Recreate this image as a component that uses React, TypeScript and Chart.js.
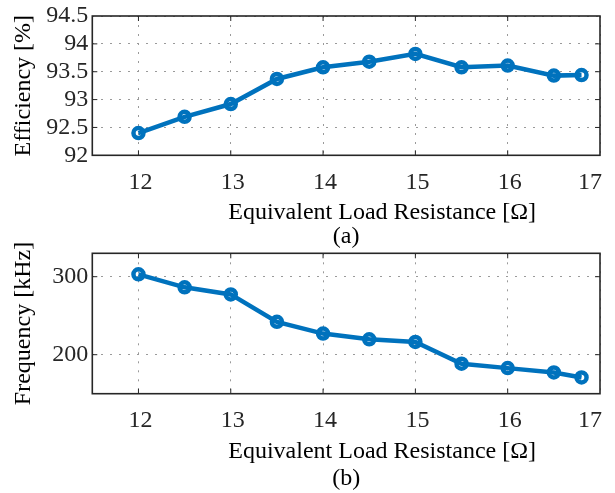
import React, { useEffect, useRef } from 'react';
import { Chart, registerables } from 'chart.js';
Chart.register(...registerables);

const resistance = [12, 12.5, 13, 13.5, 14, 14.5, 15, 15.5, 16, 16.5, 16.8];
const efficiency = [92.4, 92.69, 92.92, 93.37, 93.58, 93.68, 93.82, 93.58, 93.61, 93.43, 93.44];
const frequency = [303, 286.4, 277.3, 242.1, 227.1, 219.8, 216.3, 188.4, 182.8, 177.2, 170.8];
const xTicks = [11.5, 12, 13, 14, 15, 16, 17];
const effTicks = [92, 92.5, 93, 93.5, 94, 94.5];
const freqTicks = [200, 300];

const FONT = '"Liberation Serif", "Times New Roman", serif';
const BLUE = '#0072BD';
const AXIS = '#262626';
const X_TITLE = '            Equivalent Load Resistance [Ω]';

const boxPlugin = {
  id: 'box',
  afterDraw(chart: any) {
    const { ctx, chartArea: a, scales } = chart;
    ctx.save();
    ctx.strokeStyle = AXIS;
    ctx.lineWidth = 1;
    const tl = 5;
    const xs = scales.x;
    xs.ticks.forEach((t: any) => {
      const px = xs.getPixelForValue(t.value);
      if (px <= a.left + 1 || px >= a.right - 1) return;
      ctx.beginPath();
      ctx.moveTo(px, a.bottom);
      ctx.lineTo(px, a.bottom - tl);
      ctx.moveTo(px, a.top);
      ctx.lineTo(px, a.top + tl);
      ctx.stroke();
    });
    const ys = scales.y;
    ys.ticks.forEach((t: any) => {
      const py = ys.getPixelForValue(t.value);
      if (py <= a.top + 1 || py >= a.bottom - 1) return;
      ctx.beginPath();
      ctx.moveTo(a.left, py);
      ctx.lineTo(a.left + tl, py);
      ctx.moveTo(a.right, py);
      ctx.lineTo(a.right - tl, py);
      ctx.stroke();
    });
    ctx.lineWidth = 1.6;
    ctx.strokeRect(a.left, a.top, a.right - a.left, a.bottom - a.top);
    ctx.restore();
  },
};

function makeConfig(p: {
  values: number[];
  yMin: number;
  yMax: number;
  yTicks: number[];
  yTitle: string;
  caption: string;
  topPad: number;
  xHeight: number;
  xTitlePad: number;
  capPad: number;
}): any {
  return {
    type: 'line',
    data: {
      datasets: [
        {
          data: resistance.map((x, i) => ({ x, y: p.values[i] })),
          borderColor: BLUE,
          borderWidth: 4.5,
          pointRadius: 5,
          pointBorderWidth: 4.5,
          pointBackgroundColor: 'rgba(255,255,255,0)',
          pointBorderColor: BLUE,
          tension: 0,
        },
      ],
    },
    options: {
      animation: false,
      responsive: false,
      devicePixelRatio: 1,
      layout: { padding: { top: p.topPad, right: 6.7, left: 0, bottom: 0 } },
      plugins: {
        legend: { display: false },
        tooltip: { enabled: false },
        title: {
          display: true,
          text: p.caption,
          position: 'bottom',
          fullSize: false,
          color: '#000',
          font: { family: FONT, size: 24, weight: 'normal', lineHeight: 1 },
          padding: { top: 0, bottom: p.capPad },
        },
      },
      scales: {
        x: {
          type: 'linear',
          min: 11.5,
          max: 17,
          afterBuildTicks: (s: any) => {
            s.ticks = xTicks.map((v) => ({ value: v }));
          },
          afterFit: (s: any) => {
            s.height = p.xHeight;
          },
          ticks: {
            align: 'inner',
            padding: 15,
            labelOffset: 2,
            color: AXIS,
            font: { family: FONT, size: 24, lineHeight: 1 },
            maxRotation: 0,
            callback: (v: number) => (v === 11.5 ? '' : String(v)),
          },
          grid: { color: '#9a9a9a', lineWidth: 1, drawTicks: false },
          border: { display: false, dash: [2, 7] },
          title: {
            display: true,
            text: X_TITLE,
            color: '#000',
            font: { family: FONT, size: 24, lineHeight: 1 },
            padding: { top: 0, bottom: p.xTitlePad },
          },
        },
        y: {
          type: 'linear',
          min: p.yMin,
          max: p.yMax,
          afterBuildTicks: (s: any) => {
            s.ticks = p.yTicks.map((v) => ({ value: v }));
          },
          afterFit: (s: any) => {
            s.width = 92.3;
          },
          ticks: {
            padding: 4,
            color: AXIS,
            font: { family: FONT, size: 24, lineHeight: 1 },
            callback: (v: number) => String(v),
          },
          grid: { color: '#9a9a9a', lineWidth: 1, drawTicks: false },
          border: { display: false, dash: [2, 7] },
          title: {
            display: true,
            text: p.yTitle,
            color: '#000',
            font: { family: FONT, size: 24, lineHeight: 1 },
            padding: { top: 12, bottom: 0 },
          },
        },
      },
    },
    plugins: [boxPlugin],
  };
}

function ChartCanvas({ config, width, height }: { config: any; width: number; height: number }) {
  const ref = useRef<HTMLCanvasElement | null>(null);
  useEffect(() => {
    if (!ref.current) return;
    const chart = new Chart(ref.current, config);
    return () => chart.destroy();
  }, []);
  return <canvas ref={ref} width={width} height={height} style={{ display: 'block', width, height }} />;
}

export default function App() {
  const cfgA = makeConfig({
    values: efficiency,
    yMin: 92,
    yMax: 94.5,
    yTicks: effTicks,
    yTitle: 'Efficiency [%]',
    caption: '(a)',
    topPad: 13.3,
    xHeight: 69.7,
    xTitlePad: 0,
    capPad: 1,
  });
  const cfgB = makeConfig({
    values: frequency,
    yMin: 150,
    yMax: 330,
    yTicks: freqTicks,
    yTitle: 'Frequency [kHz]',
    caption: '(b)',
    topPad: 17.3,
    xHeight: 73.3,
    xTitlePad: 3,
    capPad: 2,
  });
  return (
    <div style={{ position: 'absolute', left: 0, top: 0, width: 615, height: 493, background: '#fff', overflow: 'hidden' }}>
      <div style={{ position: 'absolute', left: 0, top: 0 }}>
        <ChartCanvas config={cfgA} width={615} height={250} />
      </div>
      <div style={{ position: 'absolute', left: 0, top: 236 }}>
        <ChartCanvas config={cfgB} width={615} height={257} />
      </div>
    </div>
  );
}
